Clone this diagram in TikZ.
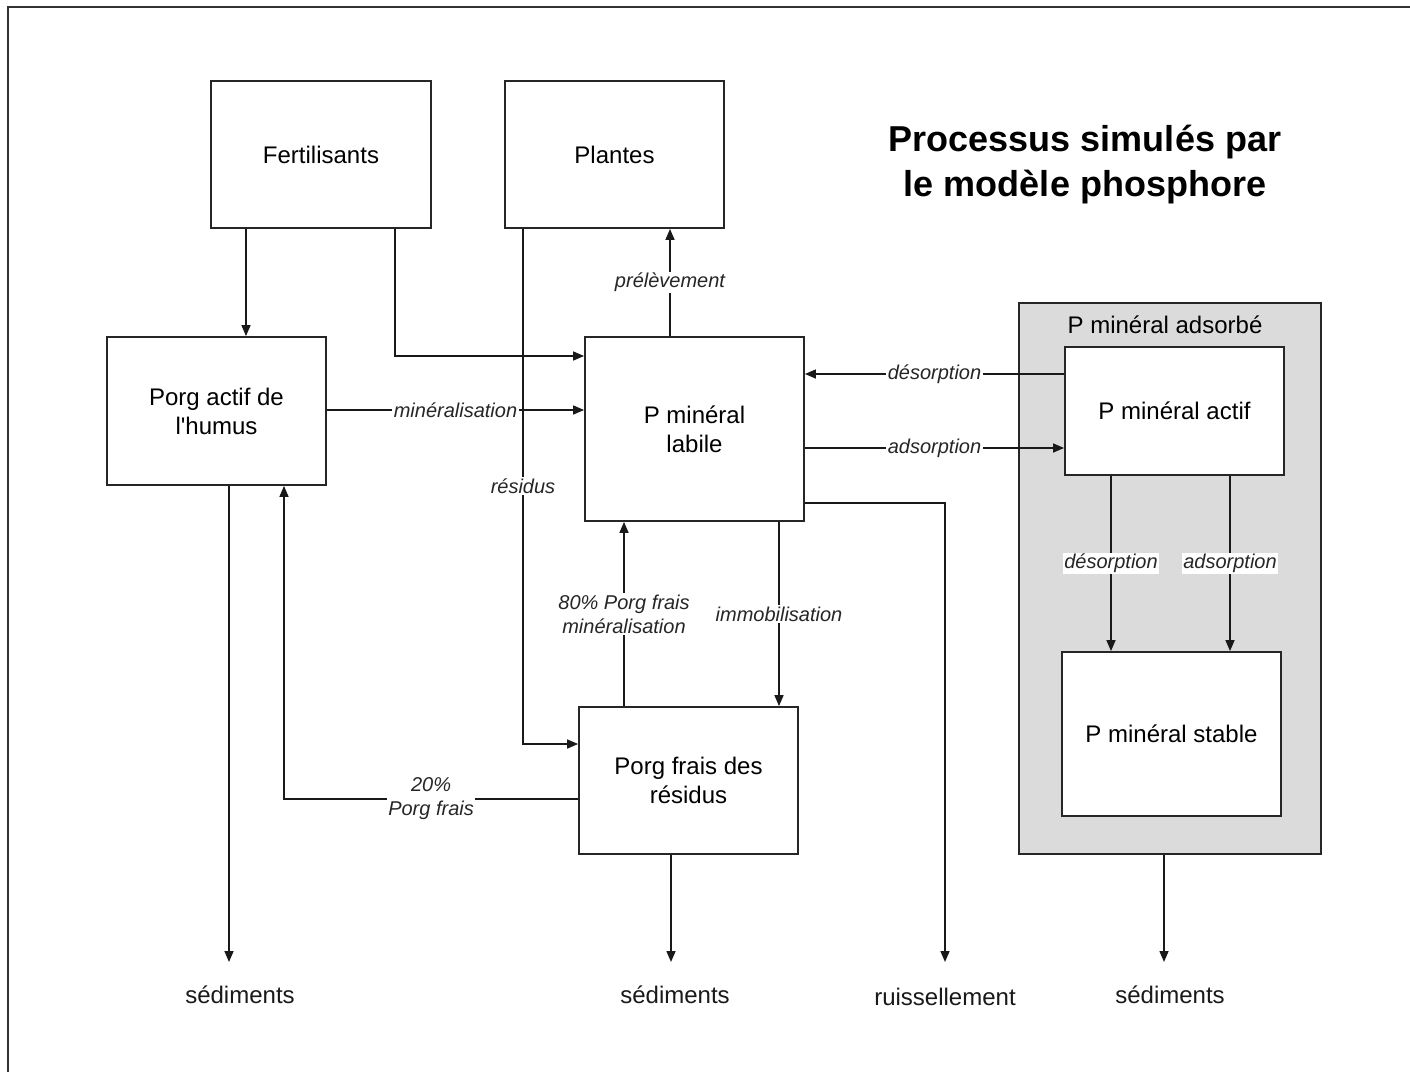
\documentclass[tikz,border=0pt]{standalone}
\usepackage{fontspec}
\setmainfont{Liberation Sans}
\usetikzlibrary{arrows.meta}
\begin{document}
\begin{tikzpicture}[x=1pt,y=-1pt,
  font=\fontsize{24}{29}\selectfont,
  box/.style={draw=black!85, line width=1.8pt, fill=white, align=center, inner sep=0pt},
  arr/.style={-{Triangle[length=11pt,width=9pt]}, line width=1.5pt, black!90},
  lab/.style={fill=white, font=\fontsize{20}{24}\selectfont\itshape, inner sep=1.5pt, align=center, text=black!85},
  outtxt/.style={font=\fontsize{24}{29}\selectfont, text=black!90}]
\clip (0,0) rectangle (1410,1071);
\fill[white] (0,0) rectangle (1410,1071);
\draw[line width=1.8pt, black!80] (8,7) rectangle (1440,1100);

% title
\node[font=\bfseries\fontsize{36}{45}\selectfont, align=center] (title) at (1085,165) {Processus simulés par\\le modèle phosphore};

% boxes
\node[box, minimum width=220pt, minimum height=147pt] (fert) at (321,154.5) {Fertilisants};
\node[box, minimum width=219pt, minimum height=147pt] (plant) at (614.5,154.5) {Plantes};
\node[box, minimum width=219pt, minimum height=148pt] (hum) at (216.5,411) {Porg actif de\\l\textquotesingle humus};
\node[box, minimum width=219pt, minimum height=184pt] (lab) at (694.5,429) {P minéral\\labile};
\node[box, minimum width=219pt, minimum height=147pt] (frais) at (688.5,780.5) {Porg frais des\\résidus};
\node[draw=black!85, line width=1.8pt, fill=black!14, minimum width=302pt, minimum height=551pt, inner sep=0pt] (ads) at (1170,578.5) {};
\node (adslab) at (1165,325) {P minéral adsorbé};
\node[box, minimum width=219pt, minimum height=128pt] (actif) at (1174.5,411) {P minéral actif};
\node[box, minimum width=219pt, minimum height=164pt] (stable) at (1171.5,734) {P minéral stable};

% output texts
\node[outtxt] (sed1) at (240,995) {sédiments};
\node[outtxt] (sed2) at (675,995) {sédiments};
\node[outtxt] (ruis) at (945,997) {ruissellement};
\node[outtxt] (sed3) at (1170,995) {sédiments};

% helper coordinates
\coordinate (x246) at (246,0);
\coordinate (x395) at (395,0);
\coordinate (x523) at (523,0);
\coordinate (x670) at (670,0);
\coordinate (x624) at (624,0);
\coordinate (x779) at (779,0);
\coordinate (x284) at (284,0);
\coordinate (x229) at (229,0);
\coordinate (x671) at (671,0);
\coordinate (x945) at (945,0);
\coordinate (x1164) at (1164,0);
\coordinate (x1111) at (1111,0);
\coordinate (x1230) at (1230,0);
\coordinate (y356) at (0,356);
\coordinate (y410) at (0,410);
\coordinate (y374) at (0,374);
\coordinate (y448) at (0,448);
\coordinate (y503) at (0,503);
\coordinate (y744) at (0,744);
\coordinate (y799) at (0,799);
\coordinate (e1) at (229,962);
\coordinate (e2) at (671,962);
\coordinate (e3) at (945,962);
\coordinate (e4) at (1164,962);

% connectors
\draw[arr] (x246 |- fert.south) -- (x246 |- hum.north);
\draw[arr] (x395 |- fert.south) |- (lab.west |- y356);
\draw[arr] (x523 |- plant.south) |- node[lab, pos=0.25] {résidus} (frais.west |- y744);
\draw[arr] (x670 |- lab.north) -- node[lab] {prélèvement} (x670 |- plant.south);
\draw[arr] (hum.east |- y410) -- node[lab] {minéralisation} (lab.west |- y410);
\draw[arr] (actif.west |- y374) -- node[lab] {désorption} (lab.east |- y374);
\draw[arr] (lab.east |- y448) -- node[lab] {adsorption} (actif.west |- y448);
\draw[arr] (lab.east |- y503) -| (e3);
\draw[arr] (x624 |- frais.north) -- node[lab] {80\% Porg frais\\minéralisation} (x624 |- lab.south);
\draw[arr] (x779 |- lab.south) -- node[lab] {immobilisation} (x779 |- frais.north);
\draw[arr] (frais.west |- y799) -| node[lab, pos=0.25] {20\%\\Porg frais} (x284 |- hum.south);
\draw[arr] (x229 |- hum.south) -- (e1);
\draw[arr] (x671 |- frais.south) -- (e2);
\draw[arr] (x1164 |- ads.south) -- (e4);
\draw[arr] (x1111 |- actif.south) -- node[lab] {désorption} (x1111 |- stable.north);
\draw[arr] (x1230 |- actif.south) -- node[lab] {adsorption} (x1230 |- stable.north);
\end{tikzpicture}
\end{document}
